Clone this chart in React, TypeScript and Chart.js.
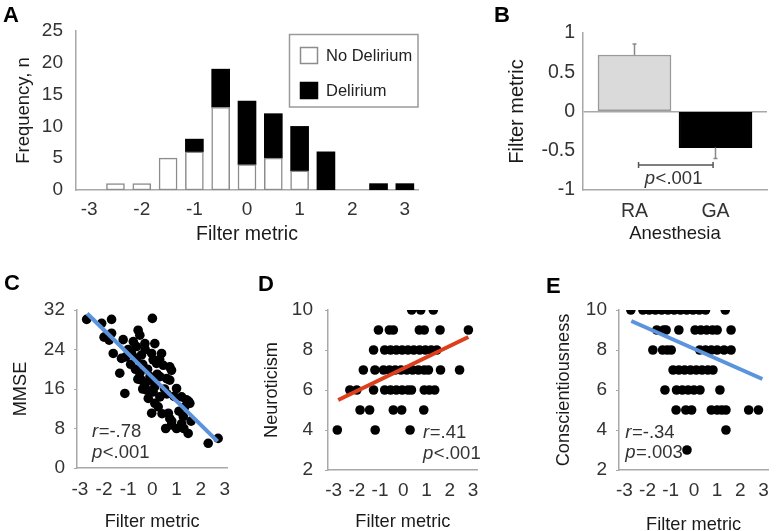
import React, { useEffect, useRef } from 'react';
import { Chart, registerables } from 'chart.js';

Chart.register(...registerables);

const FONT_FAMILY = '"Liberation Sans", Arial, Helvetica, sans-serif';
const TICK_COLOR = '#333333';
const TITLE_COLOR = '#1a1a1a';
const AXIS_COLOR = '#a8a8a8';

// ---------- Panel A: histogram ----------
const histBinLabels = ['-3', '-2.5', '-2', '-1.5', '-1', '-0.5', '0', '0.5', '1', '1.5', '2', '2.5', '3'];
const histNoDelirium = [null, 1, 1, 5, 6, 13, 4, 5, 3, null, null, null, null];
const histDelirium = [null, null, null, null, 2, 6, 10, 7, 7, 6, null, 1, 1];
const histYTicks = [0, 5, 10, 15, 20, 25];
const histSeriesNames = ['No Delirium', 'Delirium'];

// ---------- Panel B: bar with error ----------
const anesthesiaLabels = ['RA', 'GA'];
const anesthesiaMeans = [0.72, -0.46];
const anesthesiaErrors = [0.14, 0.14];
const anesthesiaYTicks = [-1, -0.5, 0, 0.5, 1];
const anesthesiaPText = ['p', '<.001'];

// ---------- shared scatter x ticks ----------
const filterTicks = [-3, -2, -1, 0, 1, 2, 3];

// ---------- Panel C: MMSE ----------
const mmseX = [
  -2.72, -2.1, -1.69, 0.0, -1.69, -0.59, -0.52, -1.79, -1.21, -0.79, -0.66, -0.31, 0.1,
  -1.62, -1.28, -0.86, -0.66, -0.45, -0.03, 0.38, 0.03, 0.17, 0.45, 0.72, 0.79, -1.35,
  -0.52, -0.45, -0.31, -0.1, 0.31, 0.59, 0.72, -1.14, -0.24, 0.03, 0.31, -0.17, 0.1,
  0.24, 1.0, 1.21, 1.41, 1.34, 1.55, -0.03, 0.66, 0.72, 1.28, 1.21, 0.79, 1.0, 1.48,
  2.31, 2.72, -1.0, -0.9, -0.7, -0.4, -0.2, -0.6, -0.4, 0.1, 0.5, 0.9, 0.4, 0.55, 0.8,
  1.1, 1.6, 1.5, -2.0, -1.1, -0.3, 0.2, 0.6, 1.3, -0.1, 0.3,
];
const mmseY = [
  30.1, 29.3, 30.1, 30.3, 27.3, 27.9, 26.9, 25.9, 26.0, 25.6, 24.6, 25.2, 25.2,
  23.2, 22.2, 23.2, 22.2, 22.9, 23.2, 23.2, 21.9, 21.2, 20.8, 20.5, 19.8, 19.2,
  19.2, 17.8, 16.8, 17.8, 18.5, 18.1, 17.8, 15.1, 15.8, 15.4, 14.4, 14.1, 13.1,
  12.4, 16.1, 14.4, 13.8, 12.4, 13.1, 11.1, 11.1, 10.0, 10.4, 9.0, 8.7, 8.0, 7.0,
  5.0, 6.0, 24, 21, 20, 21, 20, 18, 16, 16.5, 16, 14.5, 11, 8, 9.5,
  11.5, 9.5, 13.5, 26.5, 22.5, 24, 19, 15, 8, 18.5, 22,
];
const mmseFitX = [-2.7, 2.7];
const mmseFitY = [31.3, 5.4];
const mmseYTicks = [0, 8, 16, 24, 32];

// ---------- Panel D: Neuroticism ----------
const neuroX = [
  0.36, 0.75, 1.29,
  -1.07, -0.6, -0.43, 0.69, 0.9, 1.58, 2.8,
  -1.28, -0.8, -0.55, -0.3, -0.05, 0.2, 0.45, 0.7, 0.95, 1.2, 1.44,
  -1.72, -1.22, -0.85, -0.6, -0.35, -0.1, 0.15, 0.4, 0.65, 0.9, 1.08, 1.6, 2.42,
  -2.3, -2.0, -1.28, -0.8, -0.55, -0.3, -0.05, 0.2, 0.35, 0.9, 1.12, 1.35,
  -1.86, -1.45, -0.43, -0.07, 0.88,
  -2.84, -1.21, 0.29,
];
const neuroY = [
  10, 10, 10,
  9, 9, 9, 9, 9, 9, 9,
  8, 8, 8, 8, 8, 8, 8, 8, 8, 8, 8,
  7, 7, 7, 7, 7, 7, 7, 7, 7, 7, 7, 7, 7,
  6, 6, 6, 6, 6, 6, 6, 6, 6, 6, 6, 6,
  5, 5, 5, 5, 5,
  4, 4, 4,
];
const neuroFitX = [-2.8, 2.8];
const neuroFitY = [5.5, 8.65];
const personalityYTicks = [2, 4, 6, 8, 10];

// ---------- Panel E: Conscientiousness ----------
const conscX = [
  -2.72, -2.2, -1.93, -1.66, -1.39, -1.12, -0.85, -0.58, -0.31, -0.04, 0.23, 0.5, 1.35,
  -1.6, -1.3, -1.2, -0.65, 0.05, 0.3, 0.55, 0.8, 1.0, 1.6,
  -1.77, -1.35, -1.15, -0.98, 0.25, 0.5, 0.75, 1.0, 1.3, 1.6,
  -0.9, -0.65, -0.4, -0.15, 0.1, 0.35, 0.6, 0.82,
  -1.25, -0.75, -0.5, -0.25, 0.0, 0.26, 1.12,
  -0.77, -0.35, -0.1, 0.75, 1.0, 1.2, 1.38, 2.36, 2.78,
  1.38,
  -0.3,
];
const conscY = [
  10, 10, 10, 10, 10, 10, 10, 10, 10, 10, 10, 10, 10,
  9, 9, 9, 9, 9, 9, 9, 9, 9, 9,
  8, 8, 8, 8, 8, 8, 8, 8, 8, 8,
  7, 7, 7, 7, 7, 7, 7, 7,
  6, 6, 6, 6, 6, 6, 6,
  5, 5, 5, 5, 5, 5, 5, 5, 5,
  4,
  3,
];
const conscFitX = [-2.7, 2.95];
const conscFitY = [9.45, 6.55];

// ---------- helpers ----------
function drawStat(ctx: CanvasRenderingContext2D, x: number, y: number, italic: string, rest: string, align: 'left' | 'center', size: number) {
  ctx.save();
  ctx.textBaseline = 'middle';
  ctx.textAlign = 'left';
  ctx.fillStyle = TICK_COLOR;
  const it = `italic ${size}px ${FONT_FAMILY}`;
  const nm = `${size}px ${FONT_FAMILY}`;
  ctx.font = it;
  const w1 = ctx.measureText(italic).width;
  ctx.font = nm;
  const w2 = ctx.measureText(rest).width;
  const sx = align === 'center' ? x - (w1 + w2) / 2 : x;
  ctx.font = it;
  ctx.fillText(italic, sx, y);
  ctx.font = nm;
  ctx.fillText(rest, sx + w1 + 0.5, y);
  ctx.restore();
}

const f = (size: number) => ({ family: FONT_FAMILY, size });

function buildA(): any {
  const legendBox = {
    id: 'legendBox',
    afterDraw(chart: any) {
      const ctx = chart.ctx as CanvasRenderingContext2D;
      ctx.save();
      ctx.strokeStyle = '#9a9a9a';
      ctx.lineWidth = 1.5;
      ctx.strokeRect(289.5, 34.5, 128.5, 72.5);
      chart.data.datasets.forEach((ds: any, i: number) => {
        const y = 47 + i * 35;
        ctx.fillStyle = ds.backgroundColor;
        ctx.fillRect(300, y, 18, 17);
        ctx.strokeStyle = ds.borderColor;
        ctx.lineWidth = 1.5;
        ctx.strokeRect(300.5, y + 0.5, 17, 16);
        ctx.fillStyle = '#222';
        ctx.font = `16.5px ${FONT_FAMILY}`;
        ctx.textBaseline = 'middle';
        ctx.textAlign = 'left';
        ctx.fillText(ds.label, 326, y + 9);
      });
      ctx.restore();
    },
  };
  return {
    type: 'bar',
    data: {
      labels: histBinLabels,
      datasets: [
        { label: histSeriesNames[0], data: histNoDelirium, backgroundColor: '#ffffff', borderColor: '#8c8c8c', borderWidth: 1.5, barThickness: 18, borderSkipped: false },
        { label: histSeriesNames[1], data: histDelirium, backgroundColor: '#000000', borderColor: '#000000', borderWidth: 0, barThickness: 18 },
      ],
    },
    options: {
      animation: false,
      responsive: false,
      devicePixelRatio: 1,
      layout: { padding: { top: 31, right: 22, left: 0, bottom: 0 } },
      plugins: { legend: { display: false }, tooltip: { enabled: false } },
      scales: {
        x: {
          stacked: true,
          grid: { display: false, drawTicks: false },
          border: { color: AXIS_COLOR, width: 1.5 },
          ticks: {
            autoSkip: false, maxRotation: 0, padding: 8.6, color: TICK_COLOR, font: f(19),
            callback: (_v: any, i: number) => (Number.isInteger(Number(histBinLabels[i])) ? histBinLabels[i] : ''),
          },
          title: { display: true, text: 'Filter metric', color: TITLE_COLOR, font: f(19.5), padding: { top: 0, bottom: 3.5 } },
          afterFit: (s: any) => { s.height = 60; },
        },
        y: {
          stacked: true,
          min: 0, max: 25,
          afterBuildTicks: (s: any) => { s.ticks = histYTicks.map((v) => ({ value: v })); },
          grid: { display: false, drawTicks: false },
          border: { color: AXIS_COLOR, width: 1.5 },
          ticks: { padding: 13, color: TICK_COLOR, font: f(19) },
          title: { display: true, text: 'Frequency, n', color: TITLE_COLOR, font: f(18.5), padding: { top: 13, bottom: 0 } },
          afterFit: (s: any) => { s.width = 76; },
        },
      },
    },
    plugins: [legendBox],
  };
}

function buildB(): any {
  const extras = {
    id: 'errAndSig',
    afterDatasetsDraw(chart: any) {
      const ctx = chart.ctx as CanvasRenderingContext2D;
      const xs = chart.scales.x;
      const ys = chart.scales.y;
      ctx.save();
      ctx.strokeStyle = '#8a8a8a';
      ctx.lineWidth = 1.5;
      anesthesiaMeans.forEach((m, i) => {
        const e = anesthesiaErrors[i];
        const end = m >= 0 ? m + e : m - e;
        const px = xs.getPixelForValue(i);
        const p0 = ys.getPixelForValue(m);
        const p1 = ys.getPixelForValue(end);
        ctx.beginPath();
        ctx.moveTo(px, p0);
        ctx.lineTo(px, p1);
        ctx.moveTo(px - 2, p1);
        ctx.lineTo(px + 2, p1);
        ctx.stroke();
      });
      const bx0 = xs.getPixelForValue(0.05);
      const bx1 = xs.getPixelForValue(0.97);
      const by = ys.getPixelForValue(-0.68);
      ctx.strokeStyle = '#555';
      ctx.beginPath();
      ctx.moveTo(bx0, by);
      ctx.lineTo(bx1, by);
      ctx.moveTo(bx0, by - 3);
      ctx.lineTo(bx0, by + 3);
      ctx.moveTo(bx1, by - 3);
      ctx.lineTo(bx1, by + 3);
      ctx.stroke();
      ctx.restore();
      drawStat(ctx, xs.getPixelForValue(0.48), ys.getPixelForValue(-0.855), anesthesiaPText[0], anesthesiaPText[1], 'center', 18.5);
    },
  };
  return {
    type: 'bar',
    data: {
      datasets: [
        {
          data: anesthesiaMeans.map((v, i) => ({ x: i, y: v })),
          backgroundColor: ['#dadada', '#000000'],
          borderColor: ['#9a9a9a', '#000000'],
          borderWidth: 1.5,
          borderSkipped: false,
          barThickness: 73,
        },
      ],
    },
    options: {
      animation: false,
      responsive: false,
      devicePixelRatio: 1,
      layout: { padding: { top: 33, right: 11, left: 0, bottom: 0 } },
      plugins: { legend: { display: false }, tooltip: { enabled: false } },
      scales: {
        x: {
          type: 'linear',
          offset: false,
          min: -0.636, max: 1.636,
          afterBuildTicks: (s: any) => { s.ticks = anesthesiaLabels.map((_l, i) => ({ value: i })); },
          grid: { display: false, offset: false, drawTicks: false },
          border: { color: AXIS_COLOR, width: 1.5 },
          ticks: { padding: 10, color: TICK_COLOR, font: f(19.5), callback: (v: any) => anesthesiaLabels[v] ?? '' },
          title: { display: true, text: 'Anesthesia', color: TITLE_COLOR, font: f(18.5), padding: { top: 0, bottom: 5 } },
          afterFit: (s: any) => { s.height = 60; },
        },
        y: {
          min: -1, max: 1,
          afterBuildTicks: (s: any) => { s.ticks = anesthesiaYTicks.map((v) => ({ value: v })); },
          grid: {
            drawTicks: false,
            color: (c: any) => (c.tick && c.tick.value === 0 ? AXIS_COLOR : 'rgba(0,0,0,0)'),
            lineWidth: 1.5,
          },
          border: { color: AXIS_COLOR, width: 1.5 },
          ticks: { padding: 8, color: TICK_COLOR, font: f(19.5), callback: (v: any) => String(v) },
          title: { display: true, text: 'Filter metric', color: TITLE_COLOR, font: f(20), padding: { top: 25, bottom: 0 } },
          afterFit: (s: any) => { s.width = 103; },
        },
      },
    },
    plugins: [extras],
  };
}

type StatLine = { x: number; y: number; italic: string; rest: string };

function buildScatter(p: {
  xs: number[]; ys: number[]; fitX: number[]; fitY: number[]; fitColor: string;
  xMin: number; xMax: number; yMin: number; yMax: number; yTicks: number[];
  yTitle: string; yAxisWidth: number; xAxisHeight: number; padTop: number; padRight: number;
  yTitlePad: number; xTitlePad: number; yTickPad: number; xTickPad: number; stats: StatLine[];
}): any {
  const statPlugin = {
    id: 'stats',
    afterDraw(chart: any) {
      const ctx = chart.ctx as CanvasRenderingContext2D;
      const xs = chart.scales.x;
      const ys = chart.scales.y;
      p.stats.forEach((s) => drawStat(ctx, xs.getPixelForValue(s.x), ys.getPixelForValue(s.y), s.italic, s.rest, 'left', 18.5));
    },
  };
  return {
    type: 'scatter',
    data: {
      datasets: [
        {
          data: p.fitX.map((x, i) => ({ x, y: p.fitY[i] })),
          showLine: true,
          borderColor: p.fitColor,
          borderWidth: 4,
          pointRadius: 0,
          fill: false,
          order: 0,
        },
        {
          data: p.xs.map((x, i) => ({ x, y: p.ys[i] })),
          backgroundColor: '#000000',
          borderWidth: 0,
          pointRadius: 4.8,
          order: 1,
        },
      ],
    },
    options: {
      animation: false,
      responsive: false,
      devicePixelRatio: 1,
      layout: { padding: { top: p.padTop, right: p.padRight, left: 0, bottom: 0 } },
      plugins: { legend: { display: false }, tooltip: { enabled: false } },
      scales: {
        x: {
          type: 'linear',
          min: p.xMin, max: p.xMax,
          afterBuildTicks: (s: any) => { s.ticks = filterTicks.map((v) => ({ value: v })); },
          grid: { display: false, drawTicks: false },
          border: { color: AXIS_COLOR, width: 1.5 },
          ticks: { padding: p.xTickPad, color: TICK_COLOR, font: f(19), maxRotation: 0, autoSkip: false, callback: (v: any) => String(v) },
          title: { display: true, text: 'Filter metric', color: TITLE_COLOR, font: f(18.2), padding: { top: 0, bottom: p.xTitlePad } },
          afterFit: (s: any) => { s.height = p.xAxisHeight; },
        },
        y: {
          min: p.yMin, max: p.yMax,
          afterBuildTicks: (s: any) => { s.ticks = p.yTicks.map((v) => ({ value: v })); },
          grid: { drawOnChartArea: false, drawTicks: true, tickLength: 3, color: AXIS_COLOR },
          border: { color: AXIS_COLOR, width: 1.5 },
          ticks: { padding: p.yTickPad, color: TICK_COLOR, font: f(19), callback: (v: any) => String(v) },
          title: { display: true, text: p.yTitle, color: TITLE_COLOR, font: f(18.2), padding: { top: p.yTitlePad, bottom: 0 } },
          afterFit: (s: any) => { s.width = p.yAxisWidth; },
        },
      },
    },
    plugins: [statPlugin],
  };
}

function buildC(): any {
  return buildScatter({
    xs: mmseX, ys: mmseY, fitX: mmseFitX, fitY: mmseFitY, fitColor: '#5b93dd',
    xMin: -3.12, xMax: 3.1, yMin: 0, yMax: 32, yTicks: mmseYTicks,
    yTitle: 'MMSE', yAxisWidth: 77, xAxisHeight: 63, padTop: 50, padRight: 30.7,
    yTitlePad: 10, xTitlePad: -1.5, yTickPad: 9, xTickPad: 10.6,
    stats: [
      { x: -2.5, y: 7.3, italic: 'r', rest: '=-.78' },
      { x: -2.5, y: 3.0, italic: 'p', rest: '<.001' },
    ],
  });
}

function buildD(): any {
  return buildScatter({
    xs: neuroX, ys: neuroY, fitX: neuroFitX, fitY: neuroFitY, fitColor: '#dd3f1c',
    xMin: -3.24, xMax: 3.2, yMin: 2, yMax: 10, yTicks: personalityYTicks,
    yTitle: 'Neuroticism', yAxisWidth: 70, xAxisHeight: 61, padTop: 50, padRight: 40.3,
    yTitlePad: 3.5, xTitlePad: -1.5, yTickPad: 12, xTickPad: 9,
    stats: [
      { x: 0.85, y: 3.85, italic: 'r', rest: '=.41' },
      { x: 0.85, y: 2.8, italic: 'p', rest: '<.001' },
    ],
  });
}

function buildE(): any {
  return buildScatter({
    xs: conscX, ys: conscY, fitX: conscFitX, fitY: conscFitY, fitColor: '#5b93dd',
    xMin: -3.23, xMax: 3.2, yMin: 2, yMax: 10, yTicks: personalityYTicks,
    yTitle: 'Conscientiousness', yAxisWidth: 101, xAxisHeight: 61, padTop: 50, padRight: 5.8,
    yTitlePad: 35.5, xTitlePad: -4.5, yTickPad: 9, xTickPad: 9,
    stats: [
      { x: -2.96, y: 3.85, italic: 'r', rest: '=-.34' },
      { x: -2.96, y: 2.85, italic: 'p', rest: '=.003' },
    ],
  });
}

function PanelChart({ left, top, width, height, build }: { left: number; top: number; width: number; height: number; build: () => any }) {
  const ref = useRef<HTMLCanvasElement | null>(null);
  useEffect(() => {
    if (!ref.current) return;
    const chart = new Chart(ref.current, build());
    return () => chart.destroy();
  }, [build]);
  return (
    <canvas
      ref={ref}
      width={width}
      height={height}
      style={{ position: 'absolute', left, top, width, height, display: 'block' }}
    />
  );
}

function Letter({ left, top, text }: { left: number; top: number; text: string }) {
  return (
    <span
      style={{
        position: 'absolute', left, top, fontFamily: FONT_FAMILY, fontWeight: 'bold',
        fontSize: 22, lineHeight: '22px', color: '#000',
      }}
    >
      {text}
    </span>
  );
}

export default function App() {
  return (
    <div style={{ position: 'absolute', left: 0, top: 0, width: 778, height: 531, background: '#ffffff', overflow: 'hidden' }}>
      <PanelChart left={0} top={0} width={440} height={250} build={buildA} />
      <PanelChart left={480} top={0} width={298} height={250} build={buildB} />
      <PanelChart left={0} top={260} width={258} height={271} build={buildC} />
      <PanelChart left={258} top={260} width={260} height={271} build={buildD} />
      <PanelChart left={518} top={260} width={260} height={271} build={buildE} />
      <Letter left={3} top={4} text="A" />
      <Letter left={494} top={4} text="B" />
      <Letter left={4} top={272} text="C" />
      <Letter left={258} top={273} text="D" />
      <Letter left={546} top={275} text="E" />
    </div>
  );
}
